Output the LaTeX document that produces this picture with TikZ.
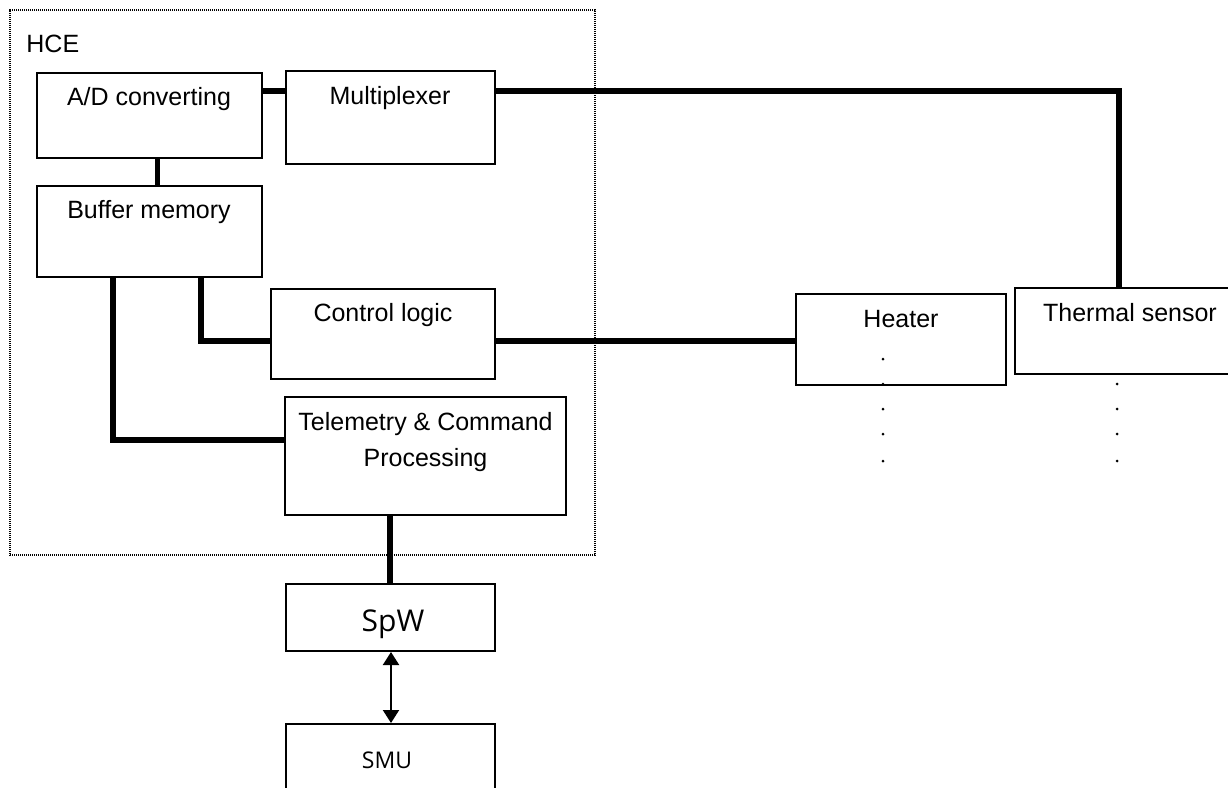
\documentclass[tikz,border=0pt]{standalone}
\usepackage{fontspec}
\setmainfont{Liberation Sans}
\newfontfamily\segfont{Open Sans}
\usetikzlibrary{arrows.meta,calc}
\begin{document}
\begin{tikzpicture}[x=0.5pt,y=-0.5pt,
  box/.style={draw,line width=1pt,inner sep=0pt,rectangle},
  frame/.style={draw,line width=1pt,dash pattern=on 0.6pt off 0.4pt,inner sep=0pt,rectangle},
  txt/.style={inner sep=0pt,anchor=base,font=\fontsize{12.5}{15}\selectfont},
  conn/.style={line width=2.8pt},
  arr/.style={line width=1pt,{Triangle[length=6.5pt,width=8pt]}-{Triangle[length=6.5pt,width=8pt]}},
  dot/.style={fill=black}]
\useasboundingbox (0,0) rectangle (1228,788);
\clip (0,0) rectangle (1228,788);
\fill[white] (0,0) rectangle (1228,788);

% frame
\node[frame,minimum width=292.5pt,minimum height=272.5pt] (hce) at (302.5,282.5) {};
\node[txt,anchor=base west] (hcet) at (26,52) {HCE};

% boxes
\node[box,minimum width=112.5pt,minimum height=42.5pt] (ad) at (149.5,115.5) {};
\node[box,minimum width=104.5pt,minimum height=46.5pt] (mux) at (390.5,117.5) {};
\node[box,minimum width=112.5pt,minimum height=45.5pt] (buf) at (149.5,231.5) {};
\node[box,minimum width=112pt,minimum height=45pt] (ctl) at (383,334) {};
\node[box,minimum width=140.5pt,minimum height=59pt] (tcp) at (425.5,456) {};
\node[box,minimum width=104.5pt,minimum height=33.5pt] (spw) at (390.5,617.5) {};
\node[box,minimum width=104.5pt,minimum height=45pt] (smu) at (390.5,769) {};
\node[box,minimum width=105pt,minimum height=45.5pt] (heat) at (901,339.5) {};
\node[box,minimum width=112.5pt,minimum height=43pt] (ts) at (1127.5,331) {};

% texts
\node[txt] (adt) at (149,105) {A/D converting};
\node[txt] (muxt) at (390,104) {Multiplexer};
\node[txt] (buft) at (149,218) {Buffer memory};
\node[txt] (ctlt) at (383,321) {Control logic};
\node[txt] (tcpa) at (425.5,430) {Telemetry \& Command};
\node[txt] (tcpb) at (425.5,466) {Processing};
\node[txt,font=\segfont\fontsize{15}{18}\selectfont] (spwt) at (393,631) {SpW};
\node[txt,font=\segfont\fontsize{11.5}{14}\selectfont] (smut) at (387,768) {SMU};
\node[txt] (heatt) at (901,327) {Heater};
\node[txt] (tst) at (1130,321) {Thermal sensor};

% helper coordinates
\coordinate (rowA) at (0,91);
\coordinate (rowC) at (0,341);
\coordinate (rowT) at (0,440);
\coordinate (xAB) at (157.5,0);
\coordinate (xB1) at (113,0);
\coordinate (xB2) at (201,0);
\coordinate (xTS) at (1119,0);
\coordinate (xSP) at (390,0);
\coordinate (xAR) at (391,0);

% connectors
\draw[conn] (ad.east |- rowA) -- (mux.west |- rowA);
\draw[conn] (mux.east |- rowA) -| (ts.north -| xTS);
\draw[conn] (ad.south -| xAB) -- (buf.north -| xAB);
\draw[conn] (buf.south -| xB2) |- (ctl.west |- rowC);
\draw[conn] (buf.south -| xB1) |- (tcp.west |- rowT);
\draw[conn] (ctl.east |- rowC) -- (heat.west |- rowC);
\draw[conn] (tcp.south -| xSP) -- (spw.north -| xSP);
\draw[arr] (spw.south -| xAR) -- (smu.north -| xAR);

% dots
\foreach \yy in {359,384,409,434,461} \fill[dot] (883,\yy) circle[radius=0.75pt];
\foreach \yy in {384,409,434,461} \fill[dot] (1117,\yy) circle[radius=0.75pt];
\end{tikzpicture}
\end{document}
